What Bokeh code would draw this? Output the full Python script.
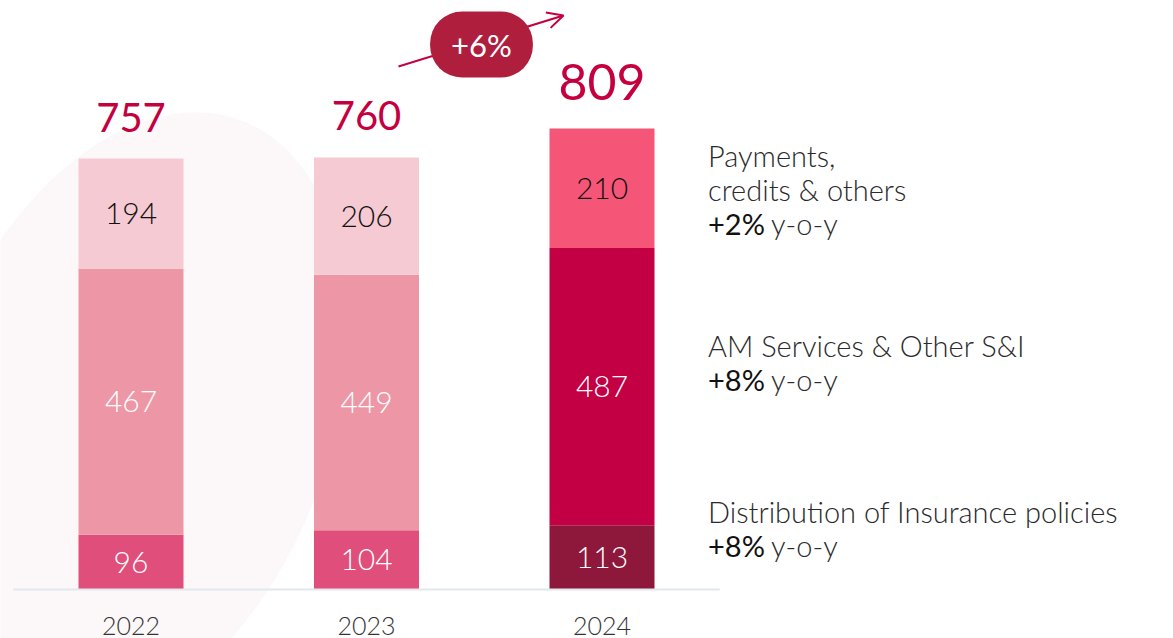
import numpy as np
from bokeh.plotting import figure
from bokeh.models import ColumnDataSource, Label, Arrow, OpenHead, Range1d
from bokeh.core.properties import value
from bokeh.embed import file_html
from bokeh.resources import INLINE

# ---------------- data ----------------
years = ["2022", "2023", "2024"]
distribution = [96, 104, 113]      # Distribution of Insurance policies
am_services = [467, 449, 487]      # AM Services & Other S&I
payments = [194, 206, 210]         # Payments, credits & others
totals = [757, 760, 809]
total_growth = "+6%"
legend_names = [["Payments,", "credits & others"],
                ["AM Services & Other S&I"],
                ["Distribution of Insurance policies"]]
legend_growth = ["+2%", "+8%", "+8%"]
growth_suffix = "y-o-y"

# ---------------- styles ----------------
LIGHT = "Lato Light"
REG = "Lato"
colors_top = ["#f5cad3", "#f5cad3", "#f55677"]
colors_mid = ["#ed97a6", "#ed97a6", "#c30043"]
colors_bot = ["#e04f7b", "#e04f7b", "#8e183b"]
label_top = ["#111111", "#111111", "#111111"]
label_mid = ["#ffffff", "#ffffff", "#ffffff"]
label_bot = ["#ffffff", "#ffffff", "#ffffff"]
CRIMSON = "#c5003e"
BADGE = "#b01e3e"

W, H = 1173, 638
PX_PER_CAT = 235.5
PX_PER_UNIT = 0.5692
X0_PX = 130.5     # canvas px of first category centre
Y0_PX = 49.0      # canvas px (from bottom) of the zero line
BAR_W = 105 / PX_PER_CAT

x_start = -X0_PX / PX_PER_CAT
x_end = x_start + W / PX_PER_CAT
y_start = -Y0_PX / PX_PER_UNIT
y_end = y_start + H / PX_PER_UNIT


def deco(sx, sy):
    """canvas-pixel position -> data position (decorations only)"""
    return x_start + sx / PX_PER_CAT, y_start + (H - sy) / PX_PER_UNIT


p = figure(width=W, height=H, x_range=Range1d(x_start, x_end),
           y_range=Range1d(y_start, y_end), output_backend="svg",
           toolbar_location=None, x_axis_type=None, y_axis_type=None,
           min_border=0, outline_line_color=None)
p.background_fill_color = "white"
p.border_fill_color = "white"

# faint background shape
bx, by = deco(130, 420)
p.ellipse(x=[bx], y=[by], width=400, height=640, width_units="screen",
          height_units="screen", angle=-20, angle_units="deg",
          fill_color="#fcf8f9", line_color=None)

x = np.arange(len(years))
b0 = np.zeros(len(years))
b1 = b0 + np.array(distribution)
b2 = b1 + np.array(am_services)
b3 = b2 + np.array(payments)

segments = [
    (b0, b1, distribution, colors_bot, label_bot),
    (b1, b2, am_services, colors_mid, label_mid),
    (b2, b3, payments, colors_top, label_top),
]
for bot, top, vals, cols, lcols in segments:
    p.vbar(x=x, bottom=bot, top=top, width=BAR_W, fill_color=cols, line_color=None)
for bot, top, vals, cols, lcols in segments:
    src = ColumnDataSource(dict(x=x, y=(bot + top) / 2, t=[str(v) for v in vals], c=lcols))
    p.text(x="x", y="y", text="t", text_color="c", source=src,
           text_font=value(LIGHT), text_font_size="30px",
           text_align="center", text_baseline="middle")

# baseline
p.line(x=[-0.5, len(years) - 0.5], y=[0, 0], line_color="#e2e8eb", line_width=2)

# year labels
p.text(x=x, y=np.zeros(len(years)), text=years, y_offset=36,
       text_font=value(LIGHT), text_font_size="25px", text_color="#333333",
       text_align="center", text_baseline="middle")

# totals
tsrc = ColumnDataSource(dict(x=x, y=totals, t=[str(v) for v in totals],
                             s=["40px", "40px", "50px"], o=[-41, -41, -47]))
p.text(x="x", y="y", text="t", source=tsrc, y_offset="o", text_font_size="s",
       text_font=value(REG), text_color=CRIMSON,
       text_align="center", text_baseline="middle")

# growth arrow + badge
ax0, ay0 = deco(398, 66)
ax1, ay1 = deco(563, 15)
p.add_layout(Arrow(x_start=ax0, y_start=ay0, x_end=ax1, y_end=ay1,
                   line_color=CRIMSON, line_width=2,
                   end=OpenHead(size=16, line_color=CRIMSON, line_width=2)))
lx, ly = deco(481, 44)
p.add_layout(Label(x=lx, y=ly, text=total_growth, text_align="center",
                   text_baseline="middle", text_color="white",
                   text_font=REG, text_font_size="31px",
                   background_fill_color=BADGE, border_radius=32,
                   padding=dict(left=21, right=21, top=14, bottom=14)))

# legend texts, anchored at 2024 segment middles
mids = [(b2[-1] + b3[-1]) / 2, (b1[-1] + b2[-1]) / 2, (b0[-1] + b1[-1]) / 2]
first_off = [-33, -41, -46]
LINE = 34
LX_OFF = 106
last = len(years) - 1
nx, ny, nt, no = [], [], [], []
gx, gy, gt, go = [], [], [], []
for names, g, m, f in zip(legend_names, legend_growth, mids, first_off):
    for j, nm in enumerate(names):
        nx.append(last); ny.append(m); nt.append(nm); no.append(f + j * LINE)
    gx.append(last); gy.append(m); gt.append(g); go.append(f + len(names) * LINE)

p.text(x="x", y="y", text="t", y_offset="o", x_offset=LX_OFF,
       source=ColumnDataSource(dict(x=nx, y=ny, t=nt, o=no)),
       text_font=value(LIGHT), text_font_size="29px", text_color="#2a2a2a",
       text_align="left", text_baseline="middle")
p.text(x="x", y="y", text="t", y_offset="o", x_offset=LX_OFF,
       source=ColumnDataSource(dict(x=gx, y=gy, t=gt, o=go)),
       text_font=value(REG), text_font_size="29px", text_color="#111111",
       text_align="left", text_baseline="middle")
p.text(x="x", y="y", text="t", y_offset="o", x_offset=LX_OFF + 63,
       source=ColumnDataSource(dict(x=gx, y=gy, t=[growth_suffix] * len(gx), o=go)),
       text_font=value(LIGHT), text_font_size="29px", text_color="#2a2a2a",
       text_align="left", text_baseline="middle")

open("out.html", "w").write(file_html(p, INLINE))
